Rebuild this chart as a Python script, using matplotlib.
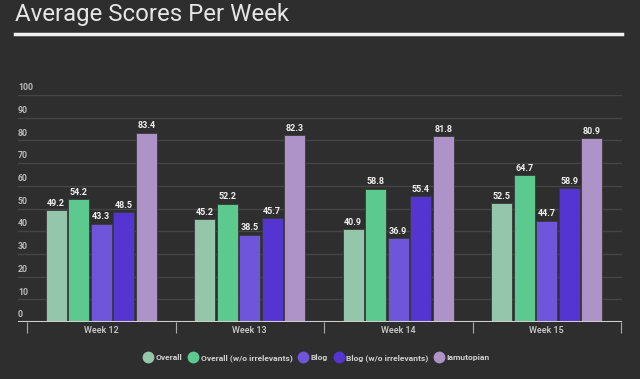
import numpy as np
import matplotlib.pyplot as plt
from matplotlib.lines import Line2D

weeks = ["Week 12", "Week 13", "Week 14", "Week 15"]
series_names = ["Overall", "Overall (w/o irrelevants)", "Blog",
                "Blog (w/o irrelevants)", "Iamutopian"]
overall = [49.2, 45.2, 40.9, 52.5]
overall_wo = [54.2, 52.2, 58.8, 64.7]
blog = [43.3, 38.5, 36.9, 44.7]
blog_wo = [48.5, 45.7, 55.4, 58.9]
iamutopian = [83.4, 82.3, 81.8, 80.9]
y_ticks = [0, 10, 20, 30, 40, 50, 60, 70, 80, 90, 100]

colors = ["#93c6aa", "#5cc98e", "#6e55d9", "#5535d2", "#ad93c8"]
bg = "#2e2e2e"
text_col = "#d0d0d0"

plt.rcParams['font.family'] = ['Roboto', 'DejaVu Sans']

fig = plt.figure(figsize=(6.4, 3.79), dpi=100, facecolor=bg)
ax = fig.add_axes([18 / 640, 1 - 322 / 379, 604 / 640, 227 / 379])
ax.set_facecolor(bg)

x = np.arange(len(weeks))
step = 0.1515
width = 0.141
all_series = [overall, overall_wo, blog, blog_wo, iamutopian]
for i, vals in enumerate(all_series):
    pos = x + (i - 2) * step
    bars = ax.bar(pos, vals, width, color=colors[i], edgecolor="#3a3a3a",
                  linewidth=0.6, zorder=3)
    for b, v in zip(bars, vals):
        ax.text(b.get_x() + b.get_width() / 2, v + 1.0, f"{v:.1f}",
                ha="center", va="bottom", fontsize=6.5, fontweight="bold",
                color="#f0f0f0", zorder=4)

ax.set_xlim(-0.5 - 9 / 148.5, 3.5 + 1 / 148.5)
ax.set_ylim(0, 100)

# grid and left labels
for t in y_ticks[1:]:
    ax.axhline(t, color="#454545", linewidth=1.0, zorder=1)
for t in y_ticks:
    ax.text(0, t + 1.2, str(t), transform=ax.get_yaxis_transform(),
            ha="left", va="bottom", fontsize=6.3, fontweight="bold",
            color="#bbbbbb")

ax.axhline(0, color="#cfcfcf", linewidth=1.5, zorder=5)

for s in ax.spines.values():
    s.set_visible(False)
ax.set_yticks([])
ax.set_xticks(x)
ax.set_xticklabels(weeks, fontsize=6.5, fontweight="medium", color=text_col)
ax.set_xticks(np.arange(-0.5, 4.0, 1.0), minor=True)
ax.tick_params(axis="x", which="major", length=0, pad=3)
ax.tick_params(axis="x", which="minor", length=8, color="#aaaaaa", width=0.8)

# title and rule
fig.text(15 / 640, 1 - 14 / 379, "Average Scores Per Week", fontsize=17.3,
         color="#e6e6e6", ha="left", va="center")
fig.add_artist(Line2D([15 / 640, 622 / 640], [1 - 34 / 379, 1 - 34 / 379],
                      color="#f2f2f2", linewidth=2.5))

handles = [Line2D([], [], marker="o", linestyle="", markersize=7.5,
                  markerfacecolor=c, markeredgecolor=c) for c in colors]
leg = fig.legend(handles, series_names, loc="center",
                 bbox_to_anchor=(317 / 640, 1 - 358 / 379), ncol=5,
                 frameon=False, prop={"size": 6.1, "weight": "bold"},
                 handlelength=1.0, handletextpad=0.4, columnspacing=0.75)
for t in leg.get_texts():
    t.set_color(text_col)

fig.savefig("out.png", dpi=100, facecolor=bg)
